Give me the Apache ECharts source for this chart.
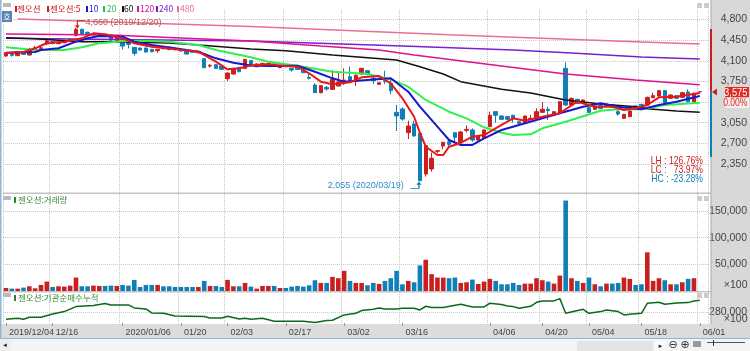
<!DOCTYPE html>
<html>
<head>
<meta charset="utf-8">
<style>
  html, body { margin: 0; padding: 0; background: #fff; }
  #chart { width: 750px; height: 351px; }
</style>
<script src="https://cdn.jsdelivr.net/npm/echarts@6/dist/echarts.min.js"></script>
</head>
<body>
<div id="chart"></div>
<script>
const dates = [
  '2019/12/04','2019/12/05','2019/12/06','2019/12/09','2019/12/10','2019/12/11','2019/12/12','2019/12/13','2019/12/16','2019/12/17',
  '2019/12/18','2019/12/19','2019/12/20','2019/12/23','2019/12/24','2019/12/26','2019/12/27','2019/12/30',
  '2020/01/02','2020/01/03','2020/01/06','2020/01/07','2020/01/08','2020/01/09','2020/01/10','2020/01/13','2020/01/14','2020/01/15',
  '2020/01/16','2020/01/17','2020/01/20','2020/01/21','2020/01/22','2020/01/23','2020/01/28','2020/01/29','2020/01/30','2020/01/31',
  '2020/02/03','2020/02/04','2020/02/05','2020/02/06','2020/02/07','2020/02/10','2020/02/11','2020/02/12','2020/02/13','2020/02/14',
  '2020/02/17','2020/02/18','2020/02/19','2020/02/20','2020/02/21','2020/02/24','2020/02/25','2020/02/26','2020/02/27','2020/02/28',
  '2020/03/02','2020/03/03','2020/03/04','2020/03/05','2020/03/06','2020/03/09','2020/03/10','2020/03/11','2020/03/12','2020/03/13',
  '2020/03/16','2020/03/17','2020/03/18','2020/03/19','2020/03/20','2020/03/23','2020/03/24','2020/03/25','2020/03/26','2020/03/27',
  '2020/03/30','2020/03/31','2020/04/01','2020/04/02','2020/04/03','2020/04/06','2020/04/07','2020/04/08','2020/04/09','2020/04/10',
  '2020/04/13','2020/04/14','2020/04/16','2020/04/17','2020/04/20','2020/04/21','2020/04/22','2020/04/23','2020/04/24','2020/04/27',
  '2020/04/28','2020/04/29','2020/05/04','2020/05/06','2020/05/07','2020/05/08','2020/05/11','2020/05/12','2020/05/13','2020/05/14',
  '2020/05/15','2020/05/18','2020/05/19','2020/05/20','2020/05/21','2020/05/22','2020/05/25','2020/05/26','2020/05/27','2020/05/28',
  '2020/05/29','2020/06/01',''
];
const tickDates = ['2019/12/04','2019/12/16','2020/01/06','2020/01/20','2020/02/03','2020/02/17','2020/03/02','2020/03/16','2020/04/06','2020/04/20','2020/05/04','2020/05/18','2020/06/01'];
const tickLabels = ['2019/12/04','12/16','2020/01/06','01/20','02/03','02/17','03/02','03/16','04/06','04/20','05/04','05/18','06/01'];

// open, close, low, high
const candles = [
  [4181,4237,4170,4250],[4215,4192,4170,4220],[4187,4255,4180,4260],[4237,4209,4200,4245],[4198,4294,4190,4322],
  [4305,4320,4280,4350],[4310,4320,4285,4350],[4384,4435,4370,4450],[4424,4395,4380,4435],[4390,4412,4380,4425],
  [4407,4424,4395,4435],[4435,4463,4425,4470],[4531,4633,4510,4660],[4633,4560,4545,4645],[4582,4548,4530,4595],
  [4542,4565,4530,4575],[4537,4560,4525,4570],[4537,4514,4500,4545],[4520,4452,4440,4530],[4441,4497,4430,4510],
  [4418,4350,4294,4425],[4407,4379,4311,4415],[4328,4226,4186,4335],[4316,4282,4275,4325],[4316,4249,4240,4325],
  [4294,4254,4245,4300],[4271,4294,4237,4300],[4328,4305,4295,4335],[4333,4288,4280,4340],[4300,4288,4280,4305],
  [4294,4266,4255,4300],[4266,4215,4205,4275],[4266,4243,4235,4275],[4237,4260,4225,4270],[4136,3983,3975,4140],
  [4011,4023,3983,4045],[4034,3972,3960,4040],[4011,3955,3945,4020],[3797,3893,3757,3900],[3876,3972,3865,3980],
  [3989,3915,3905,3995],[3972,4124,3960,4130],[4102,4029,4020,4110],[4000,4046,3990,4055],[4023,4057,4015,4065],
  [4023,4057,4015,4065],[4046,4023,4015,4055],[3984,4012,3975,4020],[4023,4000,3990,4030],[3972,3944,3916,3980],
  [4000,3955,3945,4010],[3944,3899,3890,3950],[3820,3803,3786,3887],[3690,3560,3555,3718],[3560,3679,3550,3690],
  [3650,3622,3594,3673],[3616,3786,3605,3944],[3673,3741,3665,3899],[3718,3774,3690,3972],[3831,3746,3729,4000],
  [3752,3854,3673,3870],[3876,3972,3865,3980],[3933,3876,3854,3945],[3803,3763,3707,3831],[3701,3729,3690,3740],
  [3763,3746,3707,3933],[3718,3594,3532,3803],[3226,3164,2910,3351],[3283,3113,3085,3311],[2882,2995,2774,3085],
  [3029,2825,2820,3085],[2870,2068,2055,2882],[2181,2661,2136,2665],[2266,2447,2221,2543],[2565,2577,2531,2588],
  [2656,2718,2599,2725],[2729,2684,2644,2786],[2882,2803,2712,2890],[2718,2893,2710,2910],[2921,2938,2887,3006],
  [2927,2757,2729,2955],[2757,2825,2750,2835],[2791,2927,2780,2935],[2984,3176,2975,3238],[3238,3176,3051,3245],
  [3164,3108,3095,3175],[3153,3108,3095,3160],[3176,3113,3051,3185],[3068,3040,3030,3075],[3051,3164,3040,3170],
  [3108,3125,3095,3181],[3125,3238,3115,3294],[3226,3277,3215,3396],[3277,3255,3096,3322],[3181,3238,3170,3245],
  [3209,3407,3200,3415],[3972,3351,3334,4074],[3351,3464,3340,3475],[3447,3379,3370,3455],[3379,3435,3370,3445],
  [3306,3226,3215,3315],[3277,3334,3265,3345],[3345,3289,3280,3355],[3334,3362,3325,3370],[3351,3311,3300,3360],
  [3238,3198,3170,3266],[3125,3192,3115,3200],[3153,3249,3145,3258],[3334,3277,3265,3345],[3362,3289,3280,3370],
  [3351,3481,3340,3490],[3475,3509,3465,3560],[3503,3594,3495,3605],[3594,3390,3380,3605],[3464,3520,3455,3530],
  [3509,3464,3455,3520],[3481,3560,3470,3570],[3571,3407,3395,3616],[3407,3548,3395,3560],[3575,3575,3575,3575]
];

// moving averages, [category index, price]
const ma5 = [[0,4232],[3,4249],[5,4312],[7,4402],[10,4424],[13,4481],[15,4566],[17,4549],[20,4481],[22,4396],[25,4339],[29,4295],[33,4254],[36,4085],[38,3956],[40,3973],[42,4020],[45,4041],[48,4012],[50,4000],[52,3888],[54,3746],[56,3702],[59,3736],[61,3820],[64,3842],[65,3775],[66,3719],[68,3464],[70,3152],[71,2876],[72,2644],[74,2503],[75,2503],[76,2644],[78,2707],[80,2813],[82,2842],[85,3012],[87,3125],[89,3085],[92,3152],[95,3210],[96,3278],[98,3407],[101,3322],[104,3322],[106,3266],[108,3295],[110,3351],[112,3481],[115,3491],[119,3554]];
const ma10 = [[0,4237],[5,4249],[6,4283],[9,4312],[12,4424],[14,4481],[16,4520],[20,4508],[22,4424],[25,4368],[29,4312],[33,4254],[36,4142],[39,4068],[42,4020],[45,4012],[50,4017],[53,3915],[56,3803],[58,3746],[62,3775],[66,3803],[69,3576],[71,3322],[74,2983],[76,2757],[78,2673],[80,2673],[82,2786],[85,2927],[88,3012],[92,3125],[95,3210],[99,3322],[102,3380],[105,3322],[109,3278],[112,3351],[115,3407],[119,3503]];
const ma20 = [[0,4329],[5,4283],[10,4283],[13,4329],[16,4396],[20,4430],[23,4441],[28,4424],[33,4368],[36,4283],[42,4159],[45,4085],[50,4017],[56,3915],[62,3876],[66,3786],[69,3661],[72,3436],[76,3237],[79,3125],[82,2973],[85,2881],[87,2842],[90,2854],[92,2956],[96,3068],[102,3254],[105,3278],[109,3278],[113,3351],[119,3390]];
const ma60 = [[0,4492],[5,4475],[13,4424],[18,4424],[28,4402],[33,4368],[42,4300],[48,4271],[56,4198],[67,4113],[71,3998],[75,3876],[78,3746],[85,3617],[90,3554],[96,3436],[102,3368],[108,3322],[110,3288],[115,3249],[119,3227]];
const ma120 = [[0,4554],[18,4537],[26,4503],[42,4436],[54,4351],[64,4283],[70,4198],[85,4012],[96,3876],[108,3775],[119,3695]];
const ma240 = [[0,4481],[42,4436],[68,4351],[87,4283],[97,4232],[109,4164],[119,4130]];
const ma480 = [[2,4808],[42,4680],[76,4540],[109,4420],[119,4385]];

const volumes = [
  5680,4420,4420,6310,8830,5050,11360,17670,7570,8830,8200,10100,25240,8830,8830,10100,9460,9460,10100,9460,
  11360,10100,20820,7570,11360,11360,11360,8830,8830,7570,7570,7570,7570,7570,18930,9460,9460,7570,20820,8830,
  8830,15140,8200,4420,9460,9460,9460,5680,5680,8200,9460,8200,10730,20190,15140,15140,26500,23980,37860,18930,
  15140,15140,10730,15140,13250,18930,23980,37860,12620,18930,16400,47960,58680,31550,25240,25240,23980,25240,15140,16400,
  21450,13250,17670,22720,18930,12620,12620,15140,11360,13880,13880,23980,20190,17670,13880,29030,169740,23980,18930,15140,
  25240,12620,8830,13880,13880,15140,25240,22720,11360,12620,72565,18930,23980,20190,12620,12620,16400,22720,23980,0
];

// institutional net buying, [category index, value]
const netBuying = [[0,244700],[2,249700],[3,244700],[4,254700],[6,254700],[8,271400],[10,283000],[12,308000],[15,313000],[17,323000],[18,316400],[21,316400],[22,301400],[24,296400],[25,276400],[27,274700],[29,261400],[34,258000],[35,251400],[37,251400],[38,259700],[40,246400],[41,249700],[42,244700],[44,249700],[46,234700],[51,234700],[53,228000],[55,238000],[56,239700],[58,266400],[60,274700],[61,288000],[63,294700],[64,301400],[65,296400],[67,296400],[68,299700],[70,299700],[71,291400],[72,309700],[73,303000],[75,303000],[78,319700],[80,306400],[82,306400],[83,324700],[85,318000],[86,311400],[87,308000],[88,299700],[90,309700],[91,329700],[92,336400],[94,336400],[95,348000],[96,274700],[99,294700],[100,274700],[102,283000],[103,291400],[105,283000],[106,266400],[107,269700],[109,274700],[110,324700],[112,329700],[113,319700],[115,326400],[117,328000],[118,336400],[119,339700]];

const priceTicks = [2350,2700,3050,3400,3750,4100,4450,4800];
const priceLabels = [2350,2700,3050,3750,4100,4450,4800];
const volumeTicks = [50000,100000,150000];
const netTicks = [280000];
const rangeUp = [[0,4639],[0,3575]];
const rangeDown = [[0,3575],[0,2469]];

const RED = '#c8201f';
const BLUE = '#0e7fb8';
const SANS = '"Liberation Sans",sans-serif';
const KR = '"Noto Sans CJK KR",sans-serif';

const isTick = function (i) { return tickDates.indexOf(dates[i]) >= 0; };
const fmt = function (v) { return String(v).replace(/\B(?=(\d{3})+$)/g, ','); };

function panelX(gridIndex, showLabels) {
  return {
    type: 'category', gridIndex: gridIndex, data: dates,
    axisLine: { show: false },
    axisTick: { show: showLabels, alignWithLabel: true, length: 3, interval: isTick, lineStyle: { color: '#999' } },
    axisLabel: {
      show: showLabels, interval: 0, align: 'left', margin: 5, padding: [0, 0, 0, 3],
      color: '#444', fontFamily: SANS, fontSize: 9,
      formatter: function (v) {
        const i = tickDates.indexOf(v);
        return i >= 0 ? tickLabels[i] : '';
      }
    },
    splitLine: { show: true, interval: isTick, lineStyle: { color: '#c4c4c4', type: 'dotted' } }
  };
}

function panelY(gridIndex, min, max, ticks, labels) {
  return {
    type: 'value', gridIndex: gridIndex, position: 'right', min: min, max: max,
    axisLine: { show: false },
    axisTick: { show: false, customValues: ticks },
    axisLabel: {
      customValues: labels, align: 'right', margin: 38.5,
      color: '#444', fontFamily: SANS, fontSize: 10.5, formatter: fmt
    },
    splitLine: { show: true, lineStyle: { color: '#c4c4c4', type: 'dotted' } }
  };
}

function maLine(name, data, color, width) {
  return {
    name: name, type: 'line', data: data, xAxisIndex: 0, yAxisIndex: 0,
    showSymbol: false, silent: true, lineStyle: { color: color, width: width }
  };
}

function rect(x, y, w, h, fill, z) {
  return { type: 'rect', z: z === undefined ? -1 : z, silent: true, shape: { x: x, y: y, width: w, height: h }, style: { fill: fill } };
}

function text(x, y, str, fill, font, size, align, sx) {
  return {
    type: 'text', z: 20, silent: true, x: x, y: y, scaleX: sx || 1,
    style: { text: str, fill: fill, fontFamily: font, fontSize: size, align: align || 'left', verticalAlign: 'middle' }
  };
}

const legendItems = [
  [15, '젠오션', 17, RED], [47, '젠오션:5', 50, RED], [86, '10', 89, '#1818d0'], [103, '20', 107, '#1fbf50'],
  [122, '60', 124, '#111'], [137, '120', 140, '#e0108f'], [156, '240', 159, '#7a20d0'], [177, '480', 180, '#e8708f']
];

const graphics = [
  rect(711, 0, 39, 339, '#d8d8d8'),
  rect(0, 324, 711, 15, '#dcdcdc'),
  rect(0, 339, 750, 12, '#f4f4f4'),
  rect(0, 338, 750, 1, '#8fb4dc', 5),
  rect(0, 0, 1.5, 339, '#8fb4dc', 5),
  rect(3, 192.5, 708, 1.5, '#c4c4c4', 5),
  rect(3, 291, 708, 1.5, '#c4c4c4', 5),
  rect(710.5, 0, 1, 324, '#aaa', 1),
  rect(3, 3, 8, 4, '#bbb', 5),
  rect(2, 11, 10, 11, '#5a85b0', 5),
  text(7, 16.5, '호', '#fff', KR, 8, 'center'),
  rect(697, 3, 5, 5, '#ccc', 5), rect(704, 3, 5, 5, '#ccc', 5),
  rect(697, 196, 5, 5, '#ccc', 5), rect(704, 196, 5, 5, '#ccc', 5),
  rect(697, 293, 5, 5, '#ccc', 5), rect(704, 293, 5, 5, '#ccc', 5),
  rect(3, 196, 8, 4, '#bbb', 5), rect(3, 293, 8, 4, '#bbb', 5),

  rect(14, 197, 2, 6, '#2f7f2f', 5),
  text(18, 200, '젠오션:거래량', '#3a8a3a', KR, 8.5),
  rect(14, 295, 2, 6, '#2f7f2f', 5),
  text(18, 298, '젠오션:기관순매수누적', '#3a8a3a', KR, 8.5),

  // price marker on the right edge
  { type: 'polygon', z: 20, silent: true, shape: { points: [[712, 92], [717, 88.5], [717, 95.5]] }, style: { fill: RED } },
  rect(725, 87, 24, 10.5, '#e02a20', 15),
  text(747.5, 92.5, '3,575', '#fff', SANS, 11, 'right', 0.85),
  rect(725, 97.5, 24, 10.5, '#f4eeee', 15),
  text(747.5, 102.5, '0.00%', '#e02a20', SANS, 11, 'right', 0.78),

  text(703, 161, 'LH : 126.76%', RED, SANS, 10.5, 'right', 0.82),
  text(703, 170, 'LC :   73.97%', RED, SANS, 10.5, 'right', 0.82),
  text(703, 179, 'HC : -23.28%', BLUE, SANS, 10.5, 'right', 0.82),

  text(747.5, 285, '×100', '#444', SANS, 10.5, 'right'),
  text(747.5, 319.5, '×100', '#444', SANS, 10.5, 'right'),

  // bottom toolbar
  rect(0, 339, 11, 12, '#eee', 5),
  text(5, 345, '◄', '#222', KR, 6, 'center'),
  rect(577, 341, 76, 10, '#e4e4e4', 5),
  rect(655, 340, 10, 11, '#fafafa', 5),
  text(660.5, 345.5, '►', '#222', KR, 6, 'center'),
  text(673, 345, '⊖', '#333', '"DejaVu Sans"', 11, 'center'),
  text(685, 345, '⊕', '#333', '"DejaVu Sans"', 11, 'center'),
  rect(693, 341, 8, 6, '#999', 5),
  rect(707, 342, 38, 1, '#555', 5),
  rect(713, 340, 1, 6, '#333', 5)
];
legendItems.forEach(function (it) {
  graphics.push(rect(it[0], 6, 2, 6, it[3], 5));
  graphics.push(text(it[2], 9, it[1], it[3], KR, 8.5));
});

const chart = echarts.init(document.getElementById('chart'));
chart.setOption({
  animation: false,
  backgroundColor: '#fff',
  graphic: { elements: graphics },
  grid: [
    { left: 3.1, width: 705.4, top: 10, height: 183 },
    { left: 3.1, width: 705.4, top: 194, height: 97 },
    { left: 3.1, width: 705.4, top: 292, height: 31 },
    { left: 710, width: 2, top: 10, height: 183 }
  ],
  xAxis: [
    panelX(0, false), panelX(1, false), panelX(2, true),
    { type: 'category', gridIndex: 3, data: ['range'], show: false }
  ],
  yAxis: [
    panelY(0, 1859, 4961, priceTicks, priceLabels),
    panelY(1, 0, 182000, volumeTicks, volumeTicks),
    panelY(2, 226000, 381000, netTicks, netTicks),
    { type: 'value', gridIndex: 3, min: 1859, max: 4961, show: false }
  ],
  series: [
    {
      type: 'candlestick', data: candles, xAxisIndex: 0, yAxisIndex: 0, barWidth: 4, silent: true,
      itemStyle: { color: RED, color0: BLUE, borderColor: RED, borderColor0: BLUE, borderWidth: 1 },
      markPoint: {
        silent: true, animation: false,
        data: [
          {
            coord: [12, 4660], symbol: 'path://M0 7L0 0L9 0M-1.6 5L1.6 5L0 7Z', symbolSize: [9, 7], symbolOffset: [4.5, -3.5],
            itemStyle: { color: 'transparent', borderColor: RED, borderWidth: 1 },
            label: { show: true, formatter: '4,660 (2019/12/20)', position: [10, -2], color: '#c0504d', fontFamily: SANS, fontSize: 9 }
          },
          {
            coord: [71, 2055], symbol: 'path://M0 6L9 6L9 0M7.4 2L10.6 2L9 0Z', symbolSize: [10, 6], symbolOffset: [-4.5, 4],
            itemStyle: { color: 'transparent', borderColor: BLUE, borderWidth: 1 },
            label: { show: true, formatter: '2,055 (2020/03/19)', position: [-82, -1], color: '#2a8fc0', fontFamily: SANS, fontSize: 9 }
          }
        ]
      }
    },
    maLine('480', ma480, '#e8708f', 1.5),
    maLine('240', ma240, '#7a20d0', 1.5),
    maLine('120', ma120, '#e0108f', 1.5),
    maLine('60', ma60, '#111111', 1.5),
    maLine('20', ma20, '#30f050', 2),
    maLine('10', ma10, '#1818d0', 2),
    maLine('5', ma5, '#e81818', 2),
    {
      type: 'bar', xAxisIndex: 1, yAxisIndex: 1, barWidth: 4.6, silent: true,
      data: volumes.map(function (v, i) {
        return { value: v, itemStyle: { color: candles[i][1] >= candles[i][0] ? RED : BLUE } };
      })
    },
    {
      type: 'line', xAxisIndex: 2, yAxisIndex: 2, data: netBuying, showSymbol: false, silent: true,
      lineStyle: { color: '#0a6a1a', width: 1.5 }
    },
    { type: 'line', xAxisIndex: 3, yAxisIndex: 3, data: rangeUp, showSymbol: false, clip: false, silent: true, lineStyle: { color: RED, width: 2 } },
    { type: 'line', xAxisIndex: 3, yAxisIndex: 3, data: rangeDown, showSymbol: false, clip: false, silent: true, lineStyle: { color: BLUE, width: 2 } }
  ]
});
</script>
</body>
</html>
